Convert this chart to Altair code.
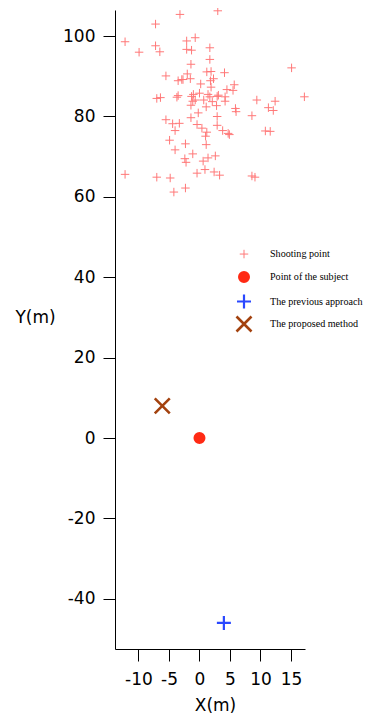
import altair as alt
import pandas as pd

# Shooting points (X, Y in metres)
shoot_x = [-3.2, 3.0, -7.2, -12.2, -9.9, -7.2, -6.5, -2.1, -0.7, -2.1, -1.3, 1.7,
           -1.4, 1.7, 15.1, -5.5, -3.5, -2.9, -2.7, -2.0, -1.5, 1.2, 1.9, 4.1,
           0.2, 1.8, 2.3, 1.9, 5.7, 4.5, 5.5, -7.0, -6.4, -3.5, -3.7, -1.3,
           -1.0, 0.0, -0.7, 0.7, 1.4, 1.7, 2.9, 3.1, 4.2, 4.2, -1.4, -1.1,
           2.8, 1.1, 9.4, 12.4, 17.2, -0.2, -1.4, 5.9, 6.0, 8.6, 11.3, 12.1,
           2.9, -5.5, -4.4, -3.3, -0.4, 0.4, 2.9, 3.8, 4.7, 4.9, 1.2, 1.0,
           -4.0, 10.8, 11.6, -4.9, -2.3, 1.1, -4.0, -1.1, -2.4, -2.2, 1.4, 2.6,
           0.6, -0.4, 0.9, 2.4, 3.3, -12.2, -7.0, -4.8, 8.6, 9.1, -2.3, -4.2, 2.1]
shoot_y = [105.4, 106.3, 103.0, 98.6, 96.0, 97.6, 96.1, 98.8, 99.6, 96.7, 96.5, 97.1,
           93.0, 94.2, 92.1, 90.1, 88.9, 89.2, 89.2, 90.6, 89.4, 91.1, 91.2, 90.9,
           88.1, 88.9, 89.4, 87.3, 87.9, 86.7, 86.5, 84.5, 84.7, 85.2, 84.8, 85.0,
           85.5, 85.8, 84.1, 84.1, 85.5, 84.9, 85.0, 85.3, 84.9, 83.8, 82.8, 83.8,
           82.7, 82.4, 84.1, 83.8, 84.9, 80.9, 79.7, 82.0, 81.2, 80.2, 82.2, 81.5,
           80.0, 79.2, 78.2, 78.3, 78.0, 77.1, 77.8, 76.5, 75.8, 75.5, 76.1, 75.1,
           76.5, 76.4, 76.3, 74.1, 73.2, 73.0, 71.7, 70.7, 69.5, 68.6, 69.7, 70.2,
           68.9, 65.9, 66.8, 66.2, 65.4, 65.6, 64.9, 64.7, 65.2, 64.9, 62.2, 61.2, 83.7]

series_names = ["Shooting point", "Point of the subject",
                "The previous approach", "The proposed method"]
subject_xy = [0.0, 0.0]
previous_xy = [4.0, -46.0]
proposed_xy = [-6.1, 8.0]

x_ticks = [-10, -5, 0, 5, 10, 15]
y_ticks = [-40, -20, 0, 20, 40, 60, 80, 100]

rows = [{"x": a, "y": b, "series": series_names[0]} for a, b in zip(shoot_x, shoot_y)]
rows.append({"x": subject_xy[0], "y": subject_xy[1], "series": series_names[1]})
rows.append({"x": previous_xy[0], "y": previous_xy[1], "series": series_names[2]})
rows.append({"x": proposed_xy[0], "y": proposed_xy[1], "series": series_names[3]})
df = pd.DataFrame(rows)

plus_path = "M-1,0H1M0,-1V1"
x_path = "M-1,-1L1,1M-1,1L1,-1"

FONT = "DejaVu Sans"


def leg():
    return alt.Legend(
        title=None, orient="none", legendX=120, legendY=239,
        labelFont="Liberation Serif", labelFontSize=10.1, labelColor="black",
        labelOffset=17, rowPadding=-9, gridAlign="all", symbolOpacity=1,
    )


chart = alt.Chart(df).mark_point(opacity=1, filled=False).encode(
    x=alt.X("x:Q",
            scale=alt.Scale(domain=[-13.85, 17.3], nice=False, zero=False),
            axis=alt.Axis(values=x_ticks, title="X(m)", titleX=100, titleY=56,
                          titleBaseline="middle", labelPadding=10,
                          labelExpr="datum.value + ''")),
    y=alt.Y("y:Q",
            scale=alt.Scale(domain=[-52.5, 106.5], nice=False, zero=False),
            axis=alt.Axis(values=y_ticks, title="Y(m)", titleAngle=0,
                          titleAlign="center", titleBaseline="middle",
                          titleX=-80, titleY=307, labelPadding=8,
                          labelExpr="datum.value + ''")),
    color=alt.Color("series:N", scale=alt.Scale(domain=series_names,
                    range=["#ff7878", "#ff2a14", "#2a48ff", "#a3420f"]), legend=leg()),
    shape=alt.Shape("series:N", scale=alt.Scale(domain=series_names,
                    range=[plus_path, "circle", plus_path, x_path]), legend=leg()),
    strokeWidth=alt.StrokeWidth("series:N", scale=alt.Scale(type="ordinal", domain=series_names,
                                range=[1, 6, 2.2, 2.6]), legend=leg()),
    size=alt.Size("series:N", scale=alt.Scale(type="ordinal", domain=series_names,
                  range=[72, 36, 196, 225]), legend=leg()),
).properties(
    width=190, height=639,
    autosize=alt.AutoSizeParams(type="none"),
    padding={"left": 107, "top": 2, "right": 61, "bottom": 65},
).configure_view(stroke=None).configure_axis(
    grid=False, domainColor="black", tickColor="black", tickSize=12,
    labelFont=FONT, labelFontSize=17, labelColor="black",
    titleFont=FONT, titleFontSize=17, titleFontWeight="normal", titleColor="black",
)

chart.save("out.html", embed_options={"renderer": "svg", "actions": False})
